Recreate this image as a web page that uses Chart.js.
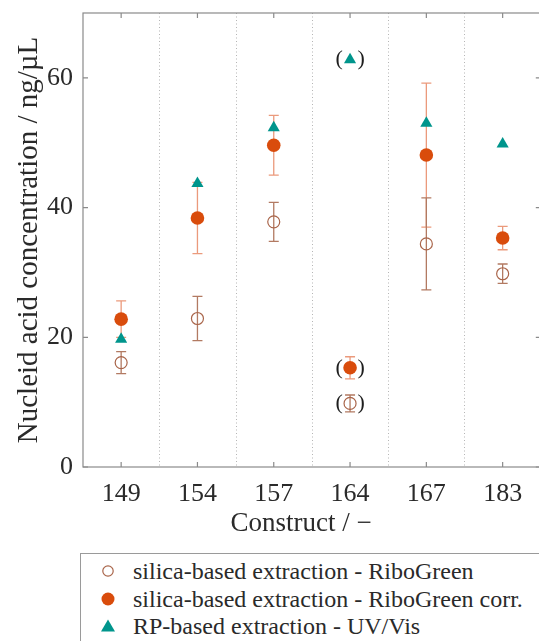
<!DOCTYPE html>
<html>
<head>
<meta charset="utf-8">
<script src="https://cdn.jsdelivr.net/npm/chart.js@4.4.1/dist/chart.umd.min.js"></script>
<style>
  html, body { margin: 0; padding: 0; background: #fff; overflow: hidden; }
  #wrap { position: relative; width: 539px; height: 641px; overflow: hidden; }
  #c { position: absolute; left: 0; top: 0; }
  #legend {
    position: absolute; left: 80px; top: 553px; width: 480px; height: 100px;
    border: 1px solid #9a9a9a; box-sizing: border-box;
    font-family: "Liberation Serif", "DejaVu Serif", serif; font-size: 24px; color: #2a2a2a;
  }
  .row { position: absolute; left: 0; width: 470px; height: 27px; line-height: 27px; white-space: nowrap; }
  .row svg { position: absolute; left: 19px; top: 5px; }
  .row span { position: absolute; left: 52px; }
</style>
</head>
<body>
<div id="wrap">
  <canvas id="c"></canvas>
  <div id="legend">
    <div class="row" style="top:4px"><svg width="16" height="16"><circle cx="8" cy="8" r="5.2" fill="none" stroke="#a9654a" stroke-width="1.2"/></svg><span>silica-based extraction - RiboGreen</span></div>
    <div class="row" style="top:32px"><svg width="16" height="16"><circle cx="8" cy="8" r="6.5" fill="#d94c0c"/></svg><span>silica-based extraction - RiboGreen corr.</span></div>
    <div class="row" style="top:59px"><svg width="16" height="16"><polygon points="8,1.5 15,13.5 1,13.5" fill="#00958c"/></svg><span>RP-based extraction - UV/Vis</span></div>
  </div>
</div>
<script>
// Konstrukte und Messwerte (ng/µL)
const categories = ['149', '154', '157', '164', '167', '183'];
const riboGreen = [16.1, 22.9, 37.8, 9.8, 34.4, 29.8];
const riboGreenErr = [1.7, 3.4, 3.0, 1.3, 7.1, 1.5];
const riboCorr = [22.8, 38.4, 49.6, 15.3, 48.1, 35.3];
const riboCorrErr = [2.8, 5.5, 4.6, 1.7, 11.1, 1.8];
const uvVis = [19.7, 43.7, 52.3, 62.8, 53.0, 49.8];
const bracketed = ['164'];
const yTicks = [0, 20, 40, 60];
const xTitle = 'Construct / −';
const yTitle = 'Nucleid acid concentration / ng/µL';

const serif = '"Liberation Serif", "DejaVu Serif", serif';
const axisColor = '#8a8a8a';
const textColor = '#2a2a2a';

const canvas = document.getElementById('c');
canvas.width = 548;
canvas.height = 552;
canvas.style.width = '548px';
canvas.style.height = '552px';

// Fehlerbalken, Rahmen, Ticks, Achsentitel und Klammern
const decorPlugin = {
    id: 'decor',
    beforeDatasetsDraw(chart) {
        const ctx = chart.ctx;
        const a = chart.chartArea;
        const x = chart.scales.x, y = chart.scales.y;
        ctx.save();
        // gepunktete Trennlinien
        ctx.strokeStyle = '#b5b5b5';
        ctx.lineWidth = 1;
        ctx.setLineDash([1, 2.5]);
        for (let i = 1; i < categories.length; i++) {
            const px = Math.round((x.getPixelForValue(i - 1) + x.getPixelForValue(i)) / 2) + 0.5;
            ctx.beginPath();
            ctx.moveTo(px, a.top);
            ctx.lineTo(px, a.bottom);
            ctx.stroke();
        }
        ctx.setLineDash([]);
        // Fehlerbalken
        const bars = [
            { data: riboCorr, err: riboCorrErr, color: '#eb9a7c' },
            { data: riboGreen, err: riboGreenErr, color: '#b27a62' }
        ];
        bars.forEach(b => {
            ctx.strokeStyle = b.color;
            ctx.lineWidth = 1.3;
            b.data.forEach((v, i) => {
                const px = x.getPixelForValue(i);
                const top = y.getPixelForValue(v + b.err[i]);
                const bot = y.getPixelForValue(v - b.err[i]);
                ctx.beginPath();
                ctx.moveTo(px, top); ctx.lineTo(px, bot);
                ctx.moveTo(px - 5, top); ctx.lineTo(px + 5, top);
                ctx.moveTo(px - 5, bot); ctx.lineTo(px + 5, bot);
                ctx.stroke();
            });
        });
        ctx.restore();
    },
    afterDatasetsDraw(chart) {
        const ctx = chart.ctx;
        const a = chart.chartArea;
        const x = chart.scales.x, y = chart.scales.y;
        ctx.save();
        // Rahmen
        ctx.strokeStyle = axisColor;
        ctx.lineWidth = 1.2;
        ctx.strokeRect(a.left, a.top, a.right - a.left, a.bottom - a.top);
        ctx.beginPath();
        categories.forEach((c, i) => {
            const px = x.getPixelForValue(i);
            ctx.moveTo(px, a.bottom); ctx.lineTo(px, a.bottom - 5);
            ctx.moveTo(px, a.top); ctx.lineTo(px, a.top + 5);
        });
        yTicks.forEach(t => {
            const py = y.getPixelForValue(t);
            ctx.moveTo(a.left, py); ctx.lineTo(a.left + 5, py);
            ctx.moveTo(a.right, py); ctx.lineTo(a.right - 5, py);
        });
        ctx.stroke();
        // Achsentitel
        ctx.fillStyle = textColor;
        ctx.textAlign = 'center';
        ctx.textBaseline = 'middle';
        ctx.font = '27px ' + serif;
        ctx.fillText(xTitle, 301, 524);
        ctx.save();
        ctx.translate(29, 240);
        ctx.rotate(-Math.PI / 2);
        ctx.font = '29px ' + serif;
        ctx.fillText(yTitle, 0, 0);
        ctx.restore();
        // Klammern um unsichere Werte
        ctx.fillStyle = '#1e1e1e';
        ctx.font = '22px ' + serif;
        bracketed.forEach(c => {
            const i = categories.indexOf(c);
            const px = x.getPixelForValue(i);
            [riboGreen[i], riboCorr[i], uvVis[i]].forEach(v => {
                const py = y.getPixelForValue(v);
                ctx.fillText('(', px - 11, py);
                ctx.fillText(')', px + 11, py);
            });
        });
        ctx.restore();
    }
};

new Chart(canvas, {
    type: 'line',
    data: {
        labels: categories,
        datasets: [
            {
                label: 'silica-based extraction - RiboGreen',
                data: riboGreen,
                showLine: false,
                pointStyle: 'circle',
                pointRadius: 6,
                pointBorderWidth: 1.2,
                pointBorderColor: '#a9654a',
                pointBackgroundColor: 'rgba(255,255,255,0)'
            },
            {
                label: 'silica-based extraction - RiboGreen corr.',
                data: riboCorr,
                showLine: false,
                pointStyle: 'circle',
                pointRadius: 6.8,
                pointBorderWidth: 0,
                pointBackgroundColor: '#d94c0c'
            },
            {
                label: 'RP-based extraction - UV/Vis',
                data: uvVis,
                showLine: false,
                pointStyle: 'triangle',
                pointRadius: 7,
                pointBorderWidth: 0,
                pointBackgroundColor: '#00958c'
            }
        ]
    },
    options: {
        responsive: false,
        animation: false,
        layout: { padding: { top: 13, right: 7, left: 0, bottom: 0 } },
        plugins: {
            legend: { display: false },
            tooltip: { enabled: false }
        },
        scales: {
            x: {
                type: 'category',
                offset: true,
                grid: { display: false, drawTicks: false },
                border: { display: false },
                ticks: {
                    color: textColor,
                    font: { family: serif, size: 26 },
                    padding: 12,
                    maxRotation: 0
                },
                afterFit(s) { s.height = 85; s.paddingLeft = 0; s.paddingRight = 0; }
            },
            y: {
                min: 0,
                max: 70,
                afterBuildTicks(s) { s.ticks = yTicks.map(v => ({ value: v })); },
                grid: { display: false, drawTicks: false },
                border: { display: false },
                ticks: {
                    color: textColor,
                    font: { family: serif, size: 26 },
                    padding: 10
                },
                afterFit(s) { s.width = 83; s.paddingTop = 0; s.paddingBottom = 0; }
            }
        }
    },
    plugins: [decorPlugin]
});
</script>
</body>
</html>
